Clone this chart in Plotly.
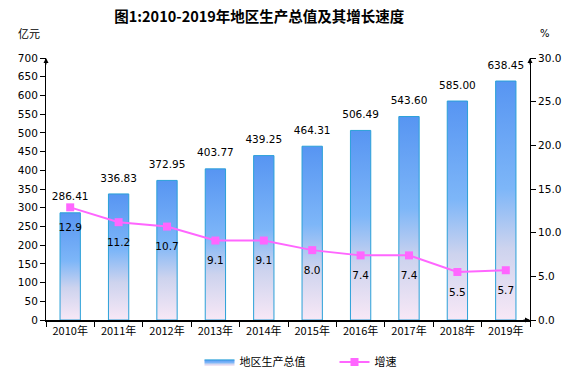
import plotly.graph_objects as go

years = ["2010年", "2011年", "2012年", "2013年", "2014年", "2015年", "2016年", "2017年", "2018年", "2019年"]
gdp = [286.41, 336.83, 372.95, 403.77, 439.25, 464.31, 506.49, 543.60, 585.00, 638.45]
growth = [12.9, 11.2, 10.7, 9.1, 9.1, 8.0, 7.4, 7.4, 5.5, 5.7]
gdp_labels = ["286.41", "336.83", "372.95", "403.77", "439.25", "464.31", "506.49", "543.60", "585.00", "638.45"]
growth_labels = ["12.9", "11.2", "10.7", "9.1", "9.1", "8.0", "7.4", "7.4", "5.5", "5.7"]

BAR_W = 0.42
FONT = "DejaVu Sans"
grad = dict(type="vertical", colorscale=[[0, "#f8e8f6"], [0.3, "#cdd3ee"], [0.55, "#7db6f8"], [1, "#5795f2"]])

fig = go.Figure()
xs = list(range(len(years)))
for i, v in enumerate(gdp):
    x0, x1 = i - BAR_W / 2, i + BAR_W / 2
    fig.add_trace(go.Scatter(
        x=[x0, x0, x1, x1, x0], y=[0, v, v, 0, 0],
        mode="lines", fill="toself", fillgradient=grad,
        line=dict(color="#2aa0d8", width=1),
        name="地区生产总值", legendgroup="gdp", showlegend=(i == 0),
        hoverinfo="skip",
    ))

fig.add_trace(go.Scatter(
    x=xs, y=gdp, mode="markers+text", text=gdp_labels, textposition="top center",
    marker=dict(size=14, opacity=0),
    textfont=dict(family=FONT, size=10.5, color="#000"), showlegend=False, hoverinfo="skip",
))

fig.add_trace(go.Scatter(
    x=xs, y=growth, yaxis="y2", mode="lines+markers", name="增速",
    line=dict(color="#ff66ff", width=2),
    marker=dict(symbol="square", size=8, color="#ff66ff"),
))

fig.add_trace(go.Scatter(
    x=xs, y=growth, yaxis="y2", mode="markers+text", text=growth_labels, textposition="bottom center",
    marker=dict(size=24, opacity=0),
    textfont=dict(family=FONT, size=10.5, color="#000"), showlegend=False, hoverinfo="skip",
))

fig.update_layout(
    width=570, height=375,
    margin=dict(l=46, r=40, t=58, b=55, autoexpand=False),
    paper_bgcolor="white", plot_bgcolor="white",
    font=dict(family=FONT, size=10.5, color="#000"),
    title=dict(text="<b>图1:2010-2019年地区生产总值及其增长速度</b>", x=0.455, xanchor="center",
               y=0.955, yref="container", yanchor="middle",
               font=dict(family="Noto Sans CJK SC", size=14.5, color="#000")),
    xaxis=dict(range=[-0.5, 9.5], tickmode="array", tickvals=xs, ticktext=years, automargin=False,
               showline=True, linecolor="#000", linewidth=1.5, ticks="", showgrid=False, zeroline=False,
               tickfont=dict(family="Noto Sans CJK SC", size=11),
               minor=dict(tickmode="linear", tick0=-0.5, dtick=1, ticks="outside", ticklen=5,
                          tickcolor="#000", showgrid=False)),
    yaxis=dict(range=[0, 700], dtick=50, showline=True, linecolor="#000", linewidth=1, automargin=False,
               ticks="outside", ticklen=5, tickcolor="#000", showgrid=False, zeroline=False),
    yaxis2=dict(range=[0, 30], dtick=5, tickformat=".1f", overlaying="y", side="right", automargin=False,
                showline=True, linecolor="#000", linewidth=1, ticks="outside", ticklen=5,
                tickcolor="#000", showgrid=False, zeroline=False),
    legend=dict(orientation="h", x=0.35, xanchor="left", xref="container", y=0.035, yref="container",
                yanchor="middle", entrywidth=90, entrywidthmode="pixels",
                font=dict(family="Noto Sans CJK SC", size=11)),
    annotations=[
        dict(text="亿元", xref="paper", yref="paper", x=-0.062, y=1.095, xanchor="left", yanchor="middle",
             showarrow=False, font=dict(family="Noto Sans CJK SC", size=11)),
        dict(text="%", xref="paper", yref="paper", x=1.03, y=1.095, xanchor="center", yanchor="middle",
             showarrow=False, font=dict(family=FONT, size=10)),
        dict(text="", xref="paper", yref="paper", x=0, y=1.0, ax=0, ay=8, showarrow=True,
             arrowhead=2, arrowsize=1, arrowwidth=1, arrowcolor="#000"),
        dict(text="", xref="paper", yref="paper", x=1, y=1.0, ax=0, ay=8, showarrow=True,
             arrowhead=2, arrowsize=1, arrowwidth=1, arrowcolor="#000"),
        dict(text="", xref="paper", yref="paper", x=1, y=0.0, ax=-8, ay=0, showarrow=True,
             arrowhead=2, arrowsize=1, arrowwidth=1, arrowcolor="#000"),
    ],
)

fig.write_html("out.html", config={"displayModeBar": False},
               post_script="document.body.style.margin='0';document.body.style.padding='0';")
